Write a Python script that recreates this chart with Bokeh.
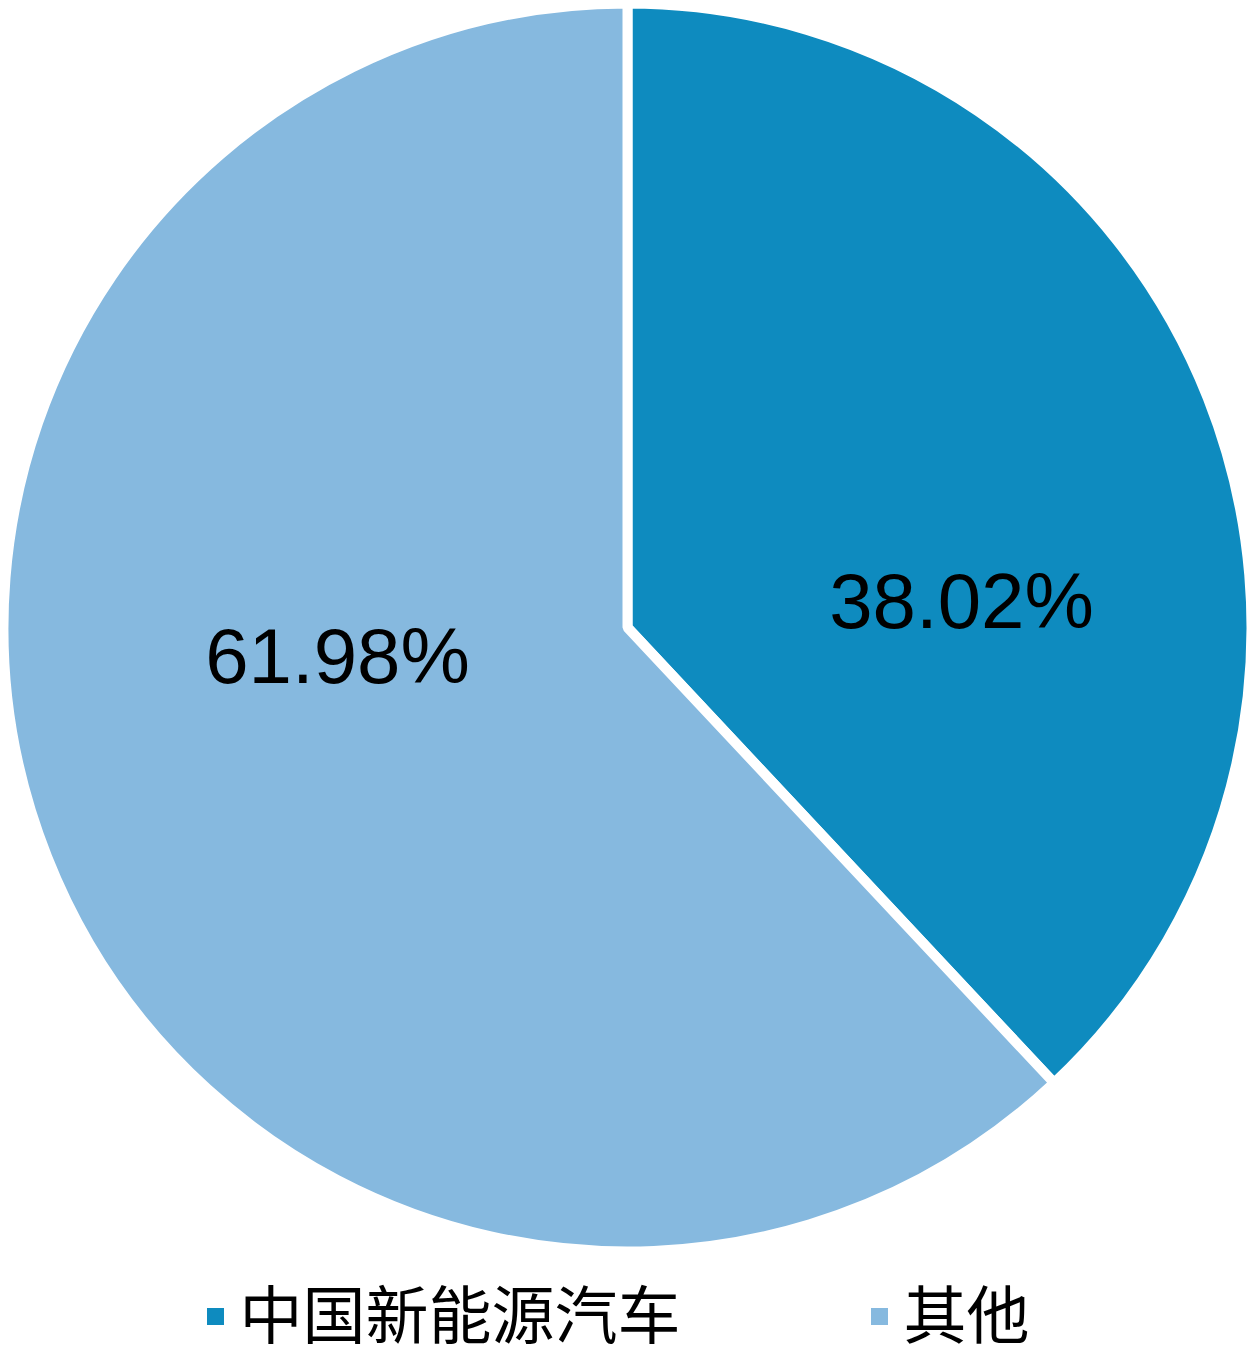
import math
from bokeh.plotting import figure
from bokeh.models import ColumnDataSource, Range1d
from bokeh.core.properties import value
from bokeh.embed import file_html
from bokeh.resources import INLINE

# ---- data ----
categories = ["中国新能源汽车", "其他"]
shares = [38.02, 61.98]
labels = ["38.02%", "61.98%"]
colors = ["#0E8BBF", "#86B9DF"]

# ---- layout ----
W, H = 1252, 1356
R = 624  # wedge radius incl. white stroke
label_xy = [(334, 27), (-290, -28)]
legend_marker_x = [-412, 252]
legend_text_x = [-388, 276]
legend_y = -689

# wedge angles: start at 12 o'clock, go clockwise
total = sum(shares)
starts, ends = [], []
acc = 0.0
for s in shares:
    a0 = math.pi / 2 - 2 * math.pi * acc / total
    a1 = math.pi / 2 - 2 * math.pi * (acc + s) / total
    starts.append(a1)
    ends.append(a0)
    acc += s

src = ColumnDataSource(dict(start=starts, end=ends, color=colors, cat=categories))

p = figure(width=W, height=H, output_backend="svg", toolbar_location=None,
           x_range=Range1d(-627, W - 627), y_range=Range1d(627 - H, 627),
           min_border=0)
p.axis.visible = False
p.grid.visible = False
p.outline_line_color = None
p.background_fill_color = "white"

p.wedge(x=0, y=0, radius=R, start_angle="start", end_angle="end",
        fill_color="color", line_color="white", line_width=10, source=src)

p.text(x=[xy[0] for xy in label_xy], y=[xy[1] for xy in label_xy], text=labels,
       text_align="center", text_baseline="alphabetic",
       text_font=value("Liberation Sans"), text_font_size="78px", text_color="black")

p.scatter(x=legend_marker_x, y=[legend_y] * 2, marker="square", size=17,
          fill_color=colors, line_color=None)
p.text(x=legend_text_x, y=[legend_y + 6] * 2, text=categories,
       text_align="left", text_baseline="middle",
       text_font=value("Noto Sans CJK SC"), text_font_size="63px", text_color="black")

open("out.html", "w").write(file_html(p, INLINE))
